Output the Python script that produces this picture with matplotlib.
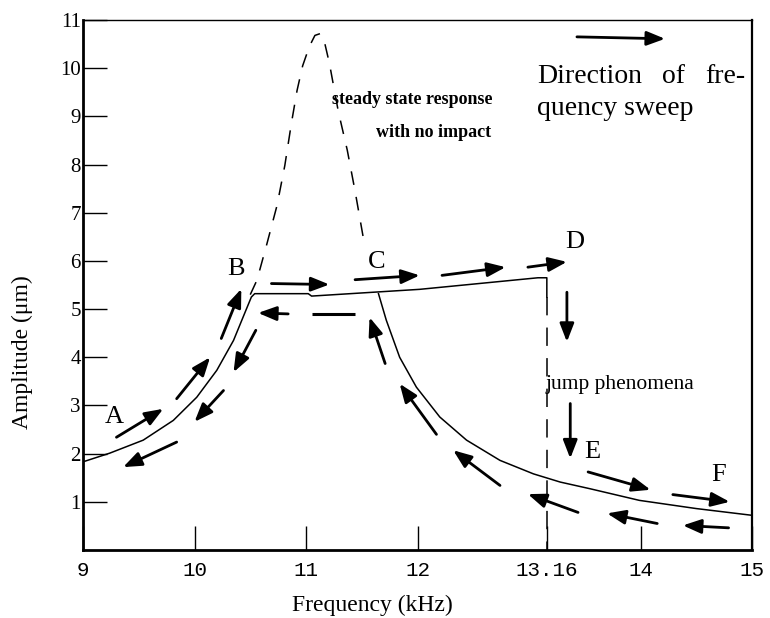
import matplotlib
matplotlib.use("Agg")
import matplotlib.pyplot as plt

SERIF = "Liberation Serif"
MONO = "Liberation Mono"

# response with impact, sweeping up (A -> B -> C -> D and the drop at D)
up_freq = [9.0, 9.24, 9.54, 9.81, 10.02, 10.20, 10.35, 10.46, 10.51, 10.54,
           11.02, 11.05, 12.02, 13.08, 13.16, 13.16]
up_amp = [1.83, 2.01, 2.28, 2.69, 3.17, 3.73, 4.35, 4.97, 5.25, 5.32,
          5.32, 5.27, 5.41, 5.65, 5.65, 5.25]

# descending branch from C towards F
down_freq = [11.65, 11.72, 11.84, 11.99, 12.20, 12.44, 12.74, 13.04, 13.28,
             13.55, 13.99, 14.50, 15.0]
down_amp = [5.32, 4.77, 4.00, 3.38, 2.76, 2.28, 1.86, 1.58, 1.41,
            1.27, 1.03, 0.86, 0.72]

# steady state response with no impact
free_freq = [10.50, 10.56, 10.65, 10.74, 10.81, 10.87, 10.92, 10.97, 11.03,
             11.08, 11.13, 11.17, 11.21, 11.29, 11.37, 11.44, 11.52]
free_amp = [5.30, 5.60, 6.36, 7.15, 7.98, 8.87, 9.54, 10.05, 10.45,
            10.68, 10.72, 10.50, 10.10, 9.10, 8.30, 7.45, 6.40]

jump_freq = 13.16
jump_amp = [5.25, 0.0]

xticks = [9, 10, 11, 12, 13.16, 14, 15]
xtick_labels = ["9", "10", "11", "12", "13.16", "14", "15"]
yticks = list(range(1, 12))

# sweep arrows: (tail freq, tail amp, head freq, head amp)
arrows = [
    (9.30, 2.34, 9.72, 2.93),
    (9.84, 3.14, 10.14, 4.00),
    (10.24, 4.39, 10.42, 5.42),
    (10.55, 4.56, 10.35, 3.69),
    (10.26, 3.31, 10.00, 2.66),
    (9.84, 2.24, 9.36, 1.72),
    (10.69, 5.53, 11.21, 5.51),
    (11.44, 5.61, 12.02, 5.70),
    (10.84, 4.90, 10.57, 4.92),
    (12.22, 5.70, 12.79, 5.87),
    (12.99, 5.87, 13.34, 5.98),
    (13.34, 5.35, 13.34, 4.32),
    (13.37, 3.04, 13.37, 1.90),
    (13.53, 1.62, 14.09, 1.25),
    (14.29, 1.15, 14.80, 1.00),
    (14.79, 0.46, 14.38, 0.51),
    (14.15, 0.55, 13.70, 0.76),
    (13.44, 0.78, 12.99, 1.16),
    (12.74, 1.34, 12.32, 2.07),
    (12.17, 2.40, 11.84, 3.45),
    (11.71, 3.87, 11.57, 4.83),
    (13.43, 10.65, 14.22, 10.61),
]
# plain dash (no head) on the return path between C and B
dash_freq = [11.05, 11.44]
dash_amp = [4.90, 4.90]

point_labels = ["A", "B", "C", "D", "E", "F"]
point_freq = [9.28, 10.37, 11.63, 13.41, 13.57, 14.70]
point_amp = [2.76, 5.84, 5.98, 6.39, 2.03, 1.55]

fig = plt.figure(figsize=(7.7, 6.18), dpi=100)
ax = fig.add_axes([83 / 770, 1 - 550 / 618, 669 / 770, 530 / 618])

ax.plot(up_freq, up_amp, color="black", lw=1.1)
ax.plot(down_freq, down_amp, color="black", lw=1.1)
ax.plot(free_freq, free_amp, color="black", lw=1.1, ls=(0, (9, 8)))
ax.plot([jump_freq, jump_freq], jump_amp, color="black", lw=1.1, ls=(0, (12, 8)))
ax.plot(dash_freq, dash_amp, color="black", lw=2.2, solid_capstyle="butt")

for x0, y0, x1, y1 in arrows:
    ax.annotate("", xy=(x1, y1), xytext=(x0, y0),
                arrowprops=dict(arrowstyle="-|>,head_length=0.85,head_width=0.33",
                                color="black", lw=2.0, mutation_scale=13,
                                shrinkA=0, shrinkB=0))

for lab, x, y in zip(point_labels, point_freq, point_amp):
    ax.text(x, y, lab, family=SERIF, fontsize=19, ha="center", va="center")

ax.text(13.07, 9.70, "Direction", family=SERIF, fontsize=20, va="baseline")
ax.text(14.19, 9.70, "of", family=SERIF, fontsize=20, va="baseline")
ax.text(14.58, 9.70, "fre-", family=SERIF, fontsize=20, va="baseline")
ax.text(13.07, 9.02, "quency sweep", family=SERIF, fontsize=20, va="baseline")

ax.text(11.23, 9.26, "steady state response", family=SERIF, fontsize=13,
        weight="bold", va="baseline")
ax.text(11.63, 8.57, "with no impact", family=SERIF, fontsize=13,
        weight="bold", va="baseline")
ax.text(13.15, 3.35, "jump phenomena", family=SERIF, fontsize=15.5, va="baseline")

ax.set_xlim(9, 15)
ax.set_ylim(0, 11)
ax.set_xticks(xticks)
ax.set_xticklabels(xtick_labels, family=MONO, fontsize=15)
ax.set_yticks(yticks)
ax.set_yticklabels([str(v) for v in yticks], family=SERIF, fontsize=15)
ax.tick_params(axis="both", direction="in", length=17, width=1.0, color="black")
ax.tick_params(axis="x", pad=8)
ax.tick_params(axis="y", pad=1.5)

for side in ["left", "bottom"]:
    ax.spines[side].set_linewidth(2.0)
ax.spines["right"].set_linewidth(1.6)
ax.spines["top"].set_linewidth(1.0)

ax.text(0.433, -0.104, "Frequency (kHz)", family=SERIF, fontsize=17,
        ha="center", va="center", transform=ax.transAxes)
ax.text(-0.091, 0.374, "Amplitude (\u03bcm)", family=SERIF, fontsize=17,
        rotation=90, ha="center", va="center", transform=ax.transAxes)

fig.savefig("out.png", dpi=100)
